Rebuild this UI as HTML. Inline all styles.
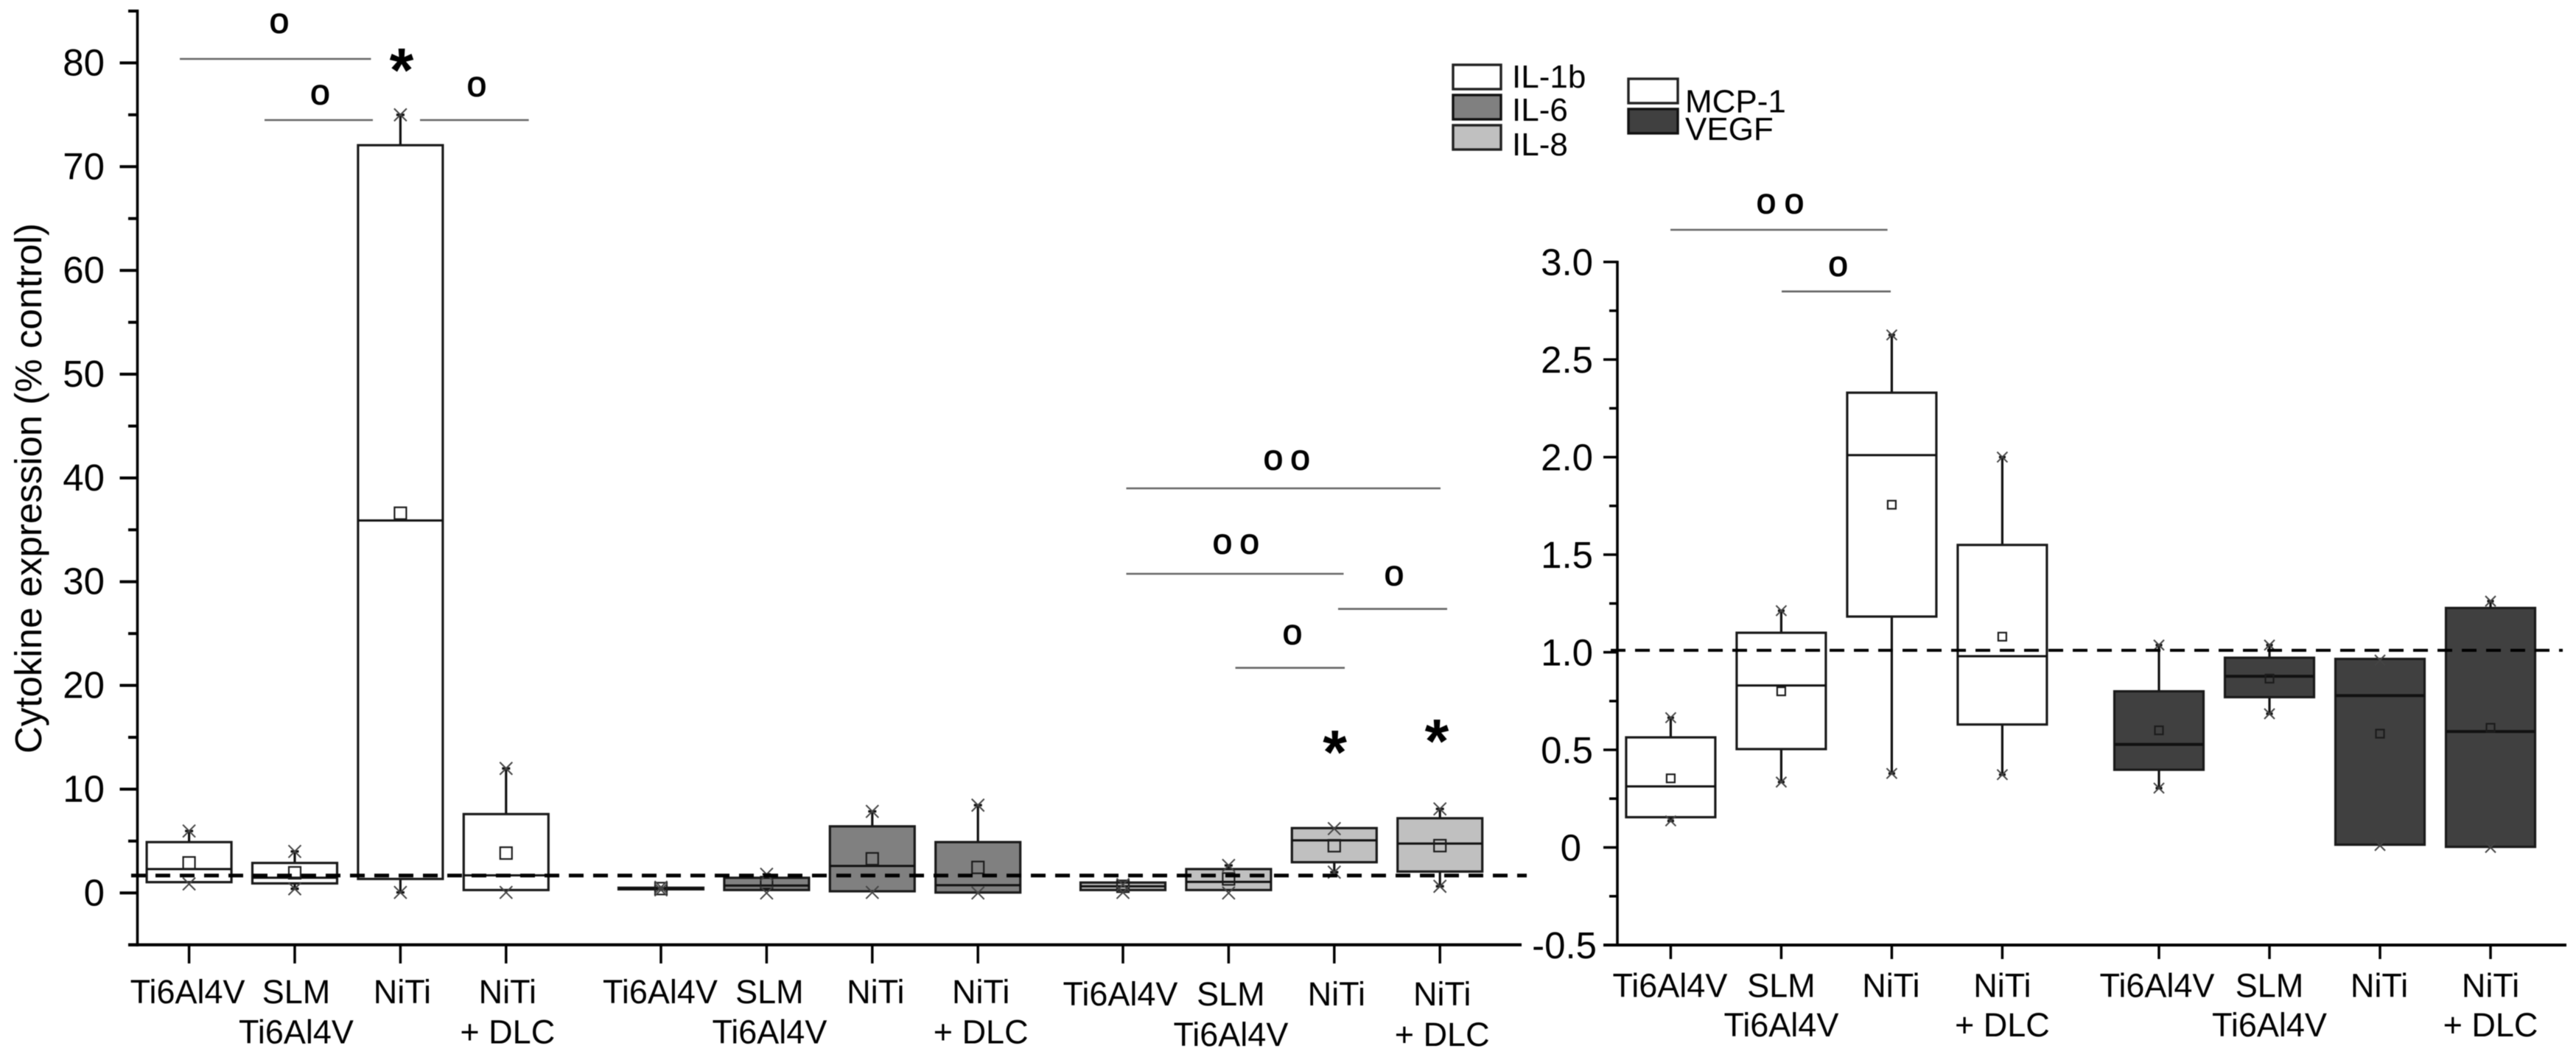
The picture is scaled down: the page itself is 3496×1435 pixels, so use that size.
<!DOCTYPE html>
<html lang="en">
<head>
<meta charset="utf-8">
<title>Cytokine expression box plots</title>
<style>
html,body{margin:0;padding:0;background:#fff;width:3496px;height:1435px;overflow:hidden}
svg{display:block;filter:blur(0.6px)}
text{font-family:"Liberation Sans",sans-serif;fill:#000}
</style>
</head>
<body>
<svg id="figure" xmlns="http://www.w3.org/2000/svg" width="3496" height="1435" viewBox="0 0 3496 1435">
  <rect x="0" y="0" width="3496" height="1435" fill="#fff"/>
  <text transform="translate(56 663) rotate(-90)" text-anchor="middle" font-size="51">Cytokine expression (% control)</text>

  <g id="panel-left"></g>
  <g id="panel-right"></g>

  <g stroke="#666" stroke-width="2.6">
    <line x1="244" y1="80" x2="503.5" y2="80"/>
    <line x1="359" y1="163" x2="506" y2="163"/>
    <line x1="570" y1="163" x2="717.6" y2="163"/>
  </g>
  <g stroke="#666" stroke-width="2.6">
    <line x1="1528.5" y1="663" x2="1955" y2="663"/>
    <line x1="1528.5" y1="779" x2="1823.5" y2="779"/>
    <line x1="1816" y1="826.7" x2="1964" y2="826.7"/>
    <line x1="1676.6" y1="906.7" x2="1825" y2="906.7"/>
  </g>
  <g stroke="#666" stroke-width="2.6">
    <line x1="2267" y1="312" x2="2561.6" y2="312"/>
    <line x1="2418" y1="395.7" x2="2566" y2="395.7"/>
  </g>
  <g font-size="48" text-anchor="middle" stroke="#000" stroke-width="1.1">
    <text x="379" y="44.5">o</text>
    <text x="434.5" y="141.5">o</text>
    <text x="647" y="130.5">o</text>
    <text x="1728" y="637.5">o</text>
    <text x="1764.6" y="637.5">o</text>
    <text x="1659" y="751.5">o</text>
    <text x="1695.7" y="751.5">o</text>
    <text x="1892" y="794.5">o</text>
    <text x="1754" y="874.5">o</text>
    <text x="2397" y="289.5">o</text>
    <text x="2435" y="289.5">o</text>
    <text x="2494.6" y="374.5">o</text>
  </g>
  <g font-size="84" font-weight="bold" text-anchor="middle">
    <text x="545" y="124">*</text>
    <text x="1811.6" y="1050">*</text>
    <text x="1950" y="1035">*</text>
  </g>

  <g font-size="44">
    <g>
      <rect x="1972" y="88" width="65" height="33" fill="#fff" stroke="#222" stroke-width="3.4"/>
      <text x="2052" y="119">IL-1b</text>
    </g>
    <g>
      <rect x="1972" y="129" width="65" height="33" fill="#808080" stroke="#111" stroke-width="3.4"/>
      <text x="2052" y="164">IL-6</text>
    </g>
    <g>
      <rect x="1972" y="170" width="65" height="33" fill="#c0c0c0" stroke="#222" stroke-width="3.4"/>
      <text x="2052" y="211">IL-8</text>
    </g>
  </g>
  <g font-size="44">
    <g>
      <rect x="2210" y="107" width="67" height="33" fill="#fff" stroke="#222" stroke-width="3.4"/>
      <text x="2287" y="152.7">MCP-1</text>
    </g>
    <g>
      <rect x="2210" y="148" width="67" height="33" fill="#404040" stroke="#111" stroke-width="3.4"/>
      <text x="2287" y="190">VEGF</text>
    </g>
  </g>
</svg>

<script>
// ---- categories and tick labels ----
const categoryLines = [['Ti6Al4V'], ['SLM', 'Ti6Al4V'], ['NiTi'], ['NiTi', '+ DLC']];
const leftMajorTicks = [0, 10, 20, 30, 40, 50, 60, 70, 80];
const leftMinorTicks = [-5, 5, 15, 25, 35, 45, 55, 65, 75, 85];
const rightMajorTicks = [-0.5, 0, 0.5, 1, 1.5, 2, 2.5, 3];
const rightMinorTicks = [-0.25, 0.25, 0.75, 1.25, 1.75, 2.25, 2.75];
const rightTickLabels = ['-0.5', '0', '0.5', '1.0', '1.5', '2.0', '2.5', '3.0'];
const leftBaseline = 1.68;
const rightBaseline = 1.01;

// ---- IL-1b (% control) ----
const il1bMax = [5.97, 4.0, 75, 12];
const il1bQ3 = [4.9, 2.89, 72.07, 7.6];
const il1bMedian = [2.3, 1.47, 35.9, 1.7];
const il1bMean = [2.9, 1.94, 36.6, 3.84];
const il1bQ1 = [1.04, 0.92, 1.35, 0.28];
const il1bMin = [0.87, 0.4, 0.05, 0.05];

// ---- IL-6 ----
const il6Max = [0.55, 1.8, 7.86, 8.46];
const il6Q3 = [0.5, 1.46, 6.42, 4.9];
const il6Median = [0.42, 0.71, 2.6, 0.75];
const il6Mean = [0.42, 1.0, 3.29, 2.46];
const il6Q1 = [0.35, 0.28, 0.16, 0.04];
const il6Min = [0.3, 0.0, 0.05, 0.0];

// ---- IL-8 ----
const il8Max = [0.8, 2.65, 6.2, 8.1];
const il8Q3 = [1.0, 2.3, 6.25, 7.2];
const il8Median = [0.64, 1.07, 5.07, 4.76];
const il8Mean = [0.64, 1.35, 4.55, 4.56];
const il8Q1 = [0.28, 0.28, 2.96, 2.06];
const il8Min = [0.05, 0.0, 2.0, 0.64];

// ---- MCP-1 ----
const mcp1Max = [0.665, 1.213, 2.626, 2.0];
const mcp1Q3 = [0.564, 1.1, 2.33, 1.55];
const mcp1Median = [0.313, 0.83, 2.01, 0.98];
const mcp1Mean = [0.354, 0.8, 1.756, 1.08];
const mcp1Q1 = [0.155, 0.504, 1.183, 0.63];
const mcp1Min = [0.136, 0.335, 0.379, 0.373];

// ---- VEGF ----
const vegfMax = [1.037, 1.037, 0.96, 1.262];
const vegfQ3 = [0.8, 0.972, 0.966, 1.227];
const vegfMedian = [0.528, 0.877, 0.778, 0.594];
const vegfMean = [0.6, 0.865, 0.583, 0.613];
const vegfQ1 = [0.398, 0.77, 0.014, 0.003];
const vegfMin = [0.304, 0.685, 0.01, 0.0];

const SVGNS = 'http://www.w3.org/2000/svg';
function make(parent, tag, attrs, txt) {
  const n = document.createElementNS(SVGNS, tag);
  for (const k in attrs) n.setAttribute(k, attrs[k]);
  if (txt !== undefined) n.textContent = txt;
  parent.appendChild(n);
  return n;
}

// axis functions
function yLeft(v) { return 15 + (85 - v) * (1282.7 - 15) / 90; }
function yRight(v) { return 355.6 + (3 - v) * (1283 - 355.6) / 3.5; }
function xLeft(group, cat) { return [256.6, 897, 1524][group] + cat * 143.4; }
function xRight(group, cat) { return [2267.4, 2930][group] + cat * 150; }

function drawSeries(root, name, fill, xf, group, yf, boxW, markerSize, meanSize, medianWidth, s) {
  s.q3.forEach(function (q3, i) {
    const x = xf(group, i);
    const g = make(root, 'g', {});
    
    
    const yMax = yf(s.max[i]), yQ3 = yf(q3), yQ1 = yf(s.q1[i]), yMin = yf(s.min[i]), yMed = yf(s.median[i]), yMean = yf(s.mean[i]);
    const r = markerSize / 2;
    // whiskers
    if (yQ3 - yMax > 4) {
      const top = make(g, 'path', { d: 'M' + x + ' ' + yQ3 + 'V' + yMax + 'M' + (x - r * 0.65) + ' ' + yMax + 'H' + (x + r * 0.65), stroke: '#111', 'stroke-width': 3.2, fill: 'none' });
      
      
    }
    if (yMin - yQ1 > 4) {
      const bot = make(g, 'path', { d: 'M' + x + ' ' + yQ1 + 'V' + yMin + 'M' + (x - r * 0.65) + ' ' + yMin + 'H' + (x + r * 0.65), stroke: '#111', 'stroke-width': 3.2, fill: 'none' });
      
      
    }
    // box
    const box = make(g, 'rect', { x: x - boxW / 2, y: yQ3, width: boxW, height: Math.max(yQ1 - yQ3, 0.5), fill: fill, stroke: '#1a1a1a', 'stroke-width': 3.2 });
    
    
    const med = make(g, 'line', { x1: x - boxW / 2, x2: x + boxW / 2, y1: yMed, y2: yMed, stroke: '#111', 'stroke-width': medianWidth });
    
    
    const mean = make(g, 'rect', { x: x - meanSize / 2, y: yMean - meanSize / 2, width: meanSize, height: meanSize, fill: 'none', stroke: '#1c1c1c', 'stroke-width': 2.2 });
    
    
    // extreme markers
    [yMax, yMin].forEach(function (y) {
      const m = make(g, 'path', { d: 'M' + (x - r) + ' ' + (y - r) + 'L' + (x + r) + ' ' + (y + r) + 'M' + (x + r) + ' ' + (y - r) + 'L' + (x - r) + ' ' + (y + r), stroke: '#444', 'stroke-width': 2, fill: 'none' });
      
      
    });
  });
}

function drawCategoryLabels(root, xf, group, offsets, base1, base2, ticksTop, tickLen) {
  categoryLines.forEach(function (lines, i) {
    const x = xf(group, i);
    const t = make(root, 'line', { x1: x, x2: x, y1: ticksTop, y2: ticksTop + tickLen, stroke: '#000', 'stroke-width': 3.5 });
    
    
    lines.forEach(function (line, k) {
      const lab = make(root, 'text', { x: x + offsets[i], y: k === 0 ? base1 : base2, 'text-anchor': 'middle', 'font-size': 45 }, line);
      
      
    });
  });
}

// ---- left panel ----
const left = document.getElementById('panel-left');
drawSeries(left, 'il-1b', '#ffffff', xLeft, 0, yLeft, 115, 17, 16, 3, { max: il1bMax, q3: il1bQ3, median: il1bMedian, mean: il1bMean, q1: il1bQ1, min: il1bMin });
drawSeries(left, 'il-6', '#808080', xLeft, 1, yLeft, 115, 17, 16, 3, { max: il6Max, q3: il6Q3, median: il6Median, mean: il6Mean, q1: il6Q1, min: il6Min });
drawSeries(left, 'il-8', '#c0c0c0', xLeft, 2, yLeft, 115, 17, 16, 3, { max: il8Max, q3: il8Q3, median: il8Median, mean: il8Mean, q1: il8Q1, min: il8Min });

const leftDash = make(left, 'line', { x1: 178, x2: 2072, y1: yLeft(leftBaseline), y2: yLeft(leftBaseline), stroke: '#000', 'stroke-width': 5, 'stroke-dasharray': '20 13' });



const leftYAxis = make(left, 'line', { x1: 186.5, x2: 186.5, y1: 13, y2: 1284.7, stroke: '#000', 'stroke-width': 3.6 });


const leftXAxis = make(left, 'line', { x1: 174, x2: 2065, y1: yLeft(-5), y2: yLeft(-5), stroke: '#000', 'stroke-width': 4.2 });



leftMajorTicks.forEach(function (v) {
  const t = make(left, 'line', { x1: 162.5, x2: 186.5, y1: yLeft(v), y2: yLeft(v), stroke: '#000', 'stroke-width': 4 });
  
  
  const lab = make(left, 'text', { x: 142, y: yLeft(v) + 17, 'text-anchor': 'end', 'font-size': 51 }, String(v));
  
  
});
leftMinorTicks.forEach(function (v) {
  const t = make(left, 'line', { x1: 174, x2: 186.5, y1: yLeft(v), y2: yLeft(v), stroke: '#000', 'stroke-width': 4 });
  
  
});
drawCategoryLabels(left, xLeft, 0, [-2, 2, 2.5, 2], 1362, 1416.7, 1283, 25);
drawCategoryLabels(left, xLeft, 1, [-1, 4, 4.5, 4], 1362, 1416.7, 1283, 25);
drawCategoryLabels(left, xLeft, 2, [-3.5, 3, 3, 3], 1365, 1420, 1283, 25);

// ---- right panel ----
const right = document.getElementById('panel-right');
drawSeries(right, 'mcp-1', '#ffffff', xRight, 0, yRight, 121, 14, 11, 3, { max: mcp1Max, q3: mcp1Q3, median: mcp1Median, mean: mcp1Mean, q1: mcp1Q1, min: mcp1Min });
drawSeries(right, 'vegf', '#404040', xRight, 1, yRight, 121, 14, 11, 4, { max: vegfMax, q3: vegfQ3, median: vegfMedian, mean: vegfMean, q1: vegfQ1, min: vegfMin });

const rightDash = make(right, 'line', { x1: 2186, x2: 3478, y1: yRight(rightBaseline), y2: yRight(rightBaseline), stroke: '#000', 'stroke-width': 4, 'stroke-dasharray': '20 13' });



const rightYAxis = make(right, 'line', { x1: 2195, x2: 2195, y1: 354, y2: 1285, stroke: '#000', 'stroke-width': 3.6 });


const rightXAxis = make(right, 'line', { x1: 2176, x2: 3483, y1: yRight(-0.5), y2: yRight(-0.5), stroke: '#000', 'stroke-width': 4 });



rightMajorTicks.forEach(function (v, i) {
  const t = make(right, 'line', { x1: 2176, x2: 2195, y1: yRight(v), y2: yRight(v), stroke: '#000', 'stroke-width': 3.5 });
  
  
  const endX = v === 0 ? 2146 : (v < 0 ? 2167 : 2162);
  const lab = make(right, 'text', { x: endX, y: yRight(v) + 18, 'text-anchor': 'end', 'font-size': 51 }, rightTickLabels[i]);
  
  
});
rightMinorTicks.forEach(function (v) {
  const t = make(right, 'line', { x1: 2184, x2: 2195, y1: yRight(v), y2: yRight(v), stroke: '#000', 'stroke-width': 3.5 });
  
  
});
drawCategoryLabels(right, xRight, 0, [-1, 0, -1, 0], 1353.5, 1407, 1283, 19);
drawCategoryLabels(right, xRight, 1, [-2.5, 0, -1, 0], 1353.5, 1407, 1283, 19);
</script>
</body>
</html>
